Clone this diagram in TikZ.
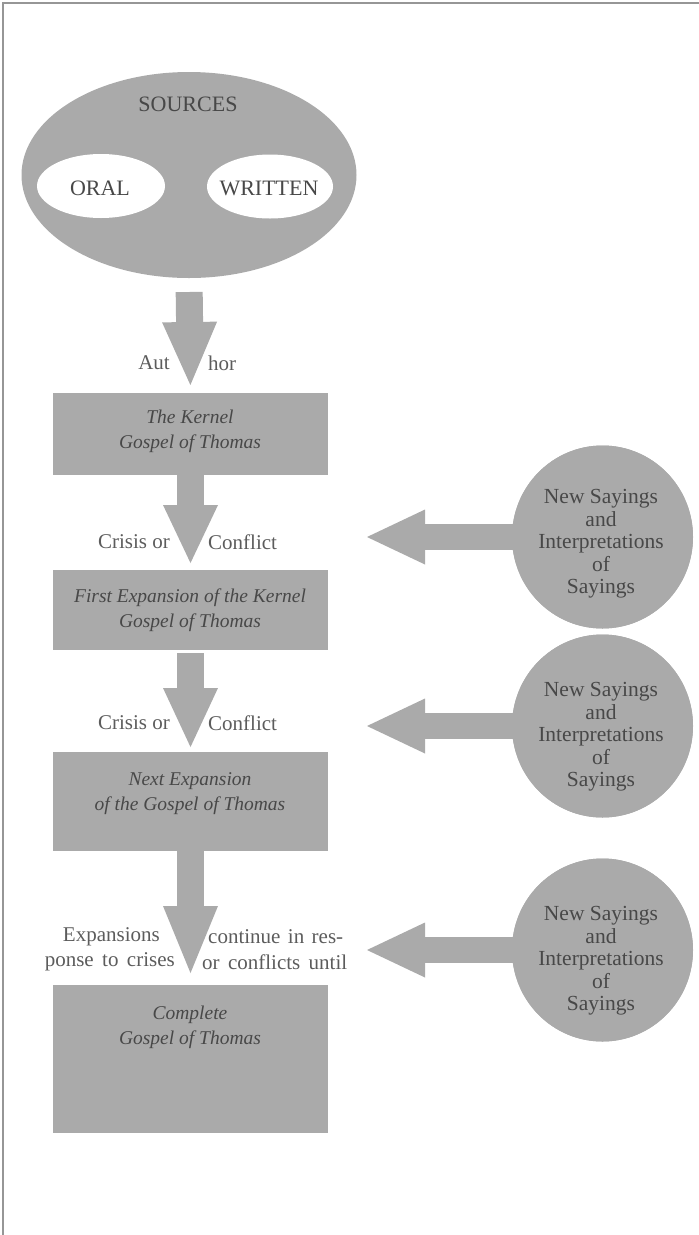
\documentclass[tikz,border=0pt]{standalone}
\usepackage{fontspec}
\setmainfont{Liberation Serif}
\usetikzlibrary{shapes.geometric,arrows.meta}
\definecolor{fillgray}{RGB}{170,170,170}
\definecolor{framegray}{RGB}{150,150,150}
\definecolor{txtdark}{RGB}{72,72,72}
\definecolor{txtlabel}{RGB}{92,92,92}
\begin{document}
\begin{tikzpicture}[x=1pt,y=-1pt,
  shapebox/.style={rectangle, fill=fillgray, draw=none, minimum width=275pt, inner sep=0pt, outer sep=0pt},
  boxtext/.style={align=center, font=\fontsize{19.5}{25}\selectfont\itshape, text=txtdark, inner sep=0pt},
  circlebody/.style={ellipse, fill=fillgray, minimum width=181pt, minimum height=183pt, inner sep=0pt, outer sep=0pt},
  circletext/.style={align=center, font=\fontsize{21.5}{22.5}\selectfont, text=txtdark, inner sep=0pt},
  capstext/.style={font=\fontsize{22}{24}\selectfont, text=txtdark, inner sep=0pt},
  downarrow/.style={draw=fillgray, line width=27pt, -{Triangle[width=55pt,length=#1,line width=0pt]}},
  leftarrow/.style={draw=fillgray, line width=26pt, -{Triangle[width=55pt,length=58pt,line width=0pt]}},
  lbl/.style={font=\fontsize{21}{25}\selectfont, text=txtlabel, inner sep=0pt},
]
\useasboundingbox (0,0) rectangle (699,1235);
% frame (top and left)
\coordinate (frBL) at (3,1235);
\coordinate (frTL) at (3,3);
\coordinate (frTR) at (699,3);
\draw[framegray, line width=2pt] (frBL) -- (frTL) -- (frTR);

% sources
\node[ellipse, fill=fillgray, minimum width=335pt, minimum height=206pt, inner sep=0pt, outer sep=0pt] (sources) at (189,175) {};
\node[ellipse, fill=white, minimum width=128pt, minimum height=64pt, inner sep=0pt, outer sep=0pt] (oral) at (101,186) {};
\node[ellipse, fill=white, minimum width=126pt, minimum height=64pt, inner sep=0pt, outer sep=0pt] (written) at (270,186.5) {};
\node[capstext] (sourcesT) at (188,104) {SOURCES};
\node[capstext] (oralT) at (100,188) {ORAL};
\node[capstext] (writtenT) at (269,188) {WRITTEN};

% boxes
\node[shapebox, minimum height=82pt] (box1) at (190.5,434) {};
\node[shapebox, minimum height=80pt] (box2) at (190.5,610) {};
\node[shapebox, minimum height=99pt] (box3) at (190.5,801.5) {};
\node[shapebox, minimum height=148pt] (box4) at (190.5,1059) {};
\node[boxtext] (box1T) at (190,431.5) {The Kernel\\Gospel of Thomas};
\node[boxtext] (box2T) at (190,610.5) {First Expansion of the Kernel\\Gospel of Thomas};
\node[boxtext] (box3T) at (190,793.5) {Next Expansion\\of the Gospel of Thomas};
\node[boxtext] (box4T) at (190,1027) {Complete\\Gospel of Thomas};

% down arrows
\draw[downarrow=63pt, shorten <=14pt, shorten >=8pt] (sources.south) -- (box1.north);
\draw[downarrow=58pt, shorten >=7pt] (box1.south) -- (box2.north);
\draw[downarrow=59pt, shorten <=3pt, shorten >=5pt] (box2.south) -- (box3.north);
\draw[downarrow=67pt, shorten >=12pt] (box3.south) -- (box4.north);

% labels at arrows
\node[lbl, anchor=east] (aut) at (170,363) {Aut};
\node[lbl, anchor=west] (hor) at (208,363) {hor};
\node[lbl, anchor=east] (crisisA) at (170,542) {Crisis or};
\node[lbl, anchor=west] (conflictA) at (208,542) {Conflict};
\node[lbl, anchor=east] (crisisB) at (170,723) {Crisis or};
\node[lbl, anchor=west] (conflictB) at (208,723) {Conflict};
\node[lbl, anchor=east] (expA) at (160,937) {Expansions};
\node[lbl, anchor=west] (expB) at (208,937) {\makebox[135pt][s]{continue in res-}};
\node[lbl, anchor=east] (expC) at (175,962) {\makebox[130pt][s]{ponse to crises}};
\node[lbl, anchor=west] (expD) at (202,962) {\makebox[145pt][s]{or conflicts until}};

% side circles with arrows
\coordinate (t1) at (367,537);
\coordinate (t2) at (367,726);
\coordinate (t3) at (367,950);
\node[circlebody] (c1) at (602.5,537) {};
\node[circlebody] (c2) at (602.5,726) {};
\node[circlebody] (c3) at (602.5,950) {};
\draw[leftarrow] (c1.center) -- (t1);
\draw[leftarrow] (c2.center) -- (t2);
\draw[leftarrow] (c3.center) -- (t3);
\node[circlebody] (c1b) at (c1.center) {};
\node[circlebody] (c2b) at (c2.center) {};
\node[circlebody] (c3b) at (c3.center) {};
\node[circletext] (c1T) at (601,544) {New Sayings\\and\\Interpretations\\of\\Sayings};
\node[circletext] (c2T) at (601,737) {New Sayings\\and\\Interpretations\\of\\Sayings};
\node[circletext] (c3T) at (601,961) {New Sayings\\and\\Interpretations\\of\\Sayings};
\end{tikzpicture}
\end{document}
